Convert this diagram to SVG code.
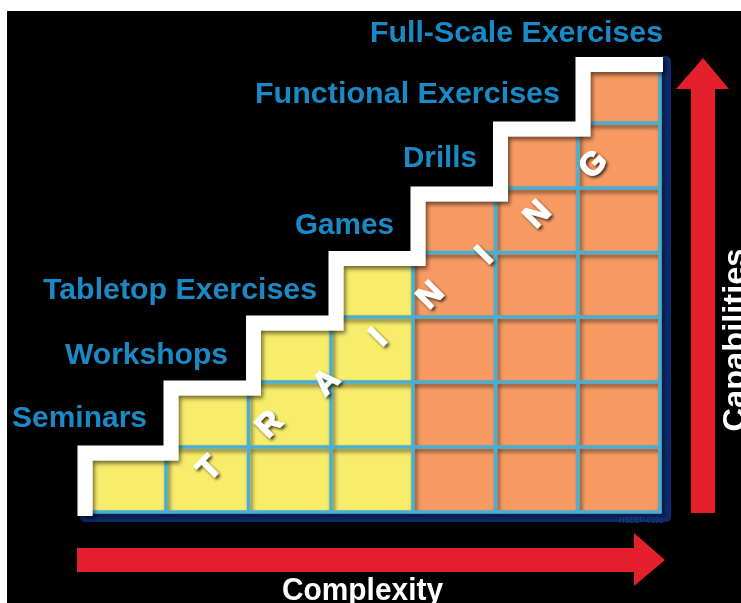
<svg xmlns="http://www.w3.org/2000/svg" width="741" height="603" viewBox="0 0 741 603">
<defs>
<style>
.lbl{font-family:"Liberation Sans",Arial,sans-serif;font-weight:bold;font-size:30px;fill:#1a8ac6}
.wt{font-family:"Liberation Sans",Arial,sans-serif;font-weight:bold;fill:#ffffff}
.ltr{font-family:"Liberation Sans",Arial,sans-serif;font-weight:bold;font-size:32px;fill:#ffffff;stroke:#ffffff;stroke-width:1.3;text-anchor:middle}
.gl{stroke:#4aaecf;stroke-width:3.5;fill:none}
.red{fill:#e3202b}
</style>
<filter id="sh" x="-10%" y="-10%" width="130%" height="130%">
<feDropShadow dx="2" dy="3" stdDeviation="2" flood-color="#000" flood-opacity="0.55"/>
</filter>
<filter id="lsh" x="-50%" y="-50%" width="200%" height="200%">
<feDropShadow dx="2" dy="2" stdDeviation="1.5" flood-color="#000" flood-opacity="0.7"/>
</filter>
</defs>
<rect x="0" y="0" width="741" height="603" fill="#ffffff"/>
<rect x="7" y="11" width="734" height="592" fill="#000000"/>

<g id="frame">
<path d="M80,508 H658 V62 Q658,56 664,56 H666 Q671,56 671,62 V516 Q671,522 665,522 H86 Q80,522 80,516 Z" fill="#0c2a6c"/>
</g>

<g id="cells">
<polygon id="yellow" fill="#f8ec6b" points="84,512 84,447 166,447 166,382 248.5,382 248.5,317 331,317 331,252.5 413,252.5 413,188 495.5,188 495.5,123 578,123 578,58 660,58 660,512"/>
<polygon id="orange" fill="#f79b63" points="413,512 413,188 495.5,188 495.5,123 578,123 578,58 660,58 660,512"/>
</g>

<g id="grid" class="gl" filter="url(#sh)">
<path d="M578,123 H660 M495.5,188 H660 M413,252.5 H660 M331,317 H660 M248.5,382 H660 M166,447 H660 M84,512 H661.75"/>
<path d="M166,382 V512 M248.5,317 V512 M331,252.5 V512 M413,188 V512 M495.5,123 V512 M578,58 V512 M660,58 V512"/>
</g>

<g id="stair" filter="url(#sh)">
<path d="M85,516 V453 H171 V388 H253.5 V323 H336 V258.5 H418 V194 H500.5 V129 H583 V64.5 H663" fill="none" stroke="#ffffff" stroke-width="15" stroke-linejoin="miter"/>
</g>

<g id="training" filter="url(#lsh)">
<text class="ltr" transform="translate(208,467) rotate(-45)" y="11.5">T</text>
<text class="ltr" transform="translate(268,423) rotate(-45)" y="11.5">R</text>
<text class="ltr" transform="translate(325,381) rotate(-45)" y="11.5">A</text>
<text class="ltr" transform="translate(377,336) rotate(-45)" y="11.5">I</text>
<text class="ltr" transform="translate(429,294) rotate(-45)" y="11.5">N</text>
<text class="ltr" transform="translate(483,254) rotate(-45)" y="11.5">I</text>
<text class="ltr" transform="translate(536,213) rotate(-45)" y="11.5">N</text>
<text class="ltr" transform="translate(592,163) rotate(-45)" y="11.5">G</text>
</g>

<g id="labels">
<g id="full-scale"><text class="lbl" x="370" y="42" textLength="293" lengthAdjust="spacingAndGlyphs">Full-Scale Exercises</text></g>
<g id="functional"><text class="lbl" x="255" y="103" textLength="305" lengthAdjust="spacingAndGlyphs">Functional Exercises</text></g>
<g id="drills"><text class="lbl" x="403" y="167" textLength="74" lengthAdjust="spacingAndGlyphs">Drills</text></g>
<g id="games"><text class="lbl" x="295" y="234" textLength="99" lengthAdjust="spacingAndGlyphs">Games</text></g>
<g id="tabletop"><text class="lbl" x="43" y="299" textLength="274" lengthAdjust="spacingAndGlyphs">Tabletop Exercises</text></g>
<g id="workshops"><text class="lbl" x="65" y="364" textLength="163" lengthAdjust="spacingAndGlyphs">Workshops</text></g>
<g id="seminars"><text class="lbl" x="12" y="427" textLength="135" lengthAdjust="spacingAndGlyphs">Seminars</text></g>
</g>

<g id="connectors">
<polygon class="red" points="77,548 634,548 634,533 665,560 634,586 634,572 77,572"/>
<polygon class="red" points="691,513 691,89 676,89 703,58 729,89 715,89 715,513"/>
</g>

<g id="axis-labels">
<text class="wt" x="282" y="600" font-size="30.5" textLength="161" lengthAdjust="spacingAndGlyphs">Complexity</text>
<text class="wt" transform="translate(745,340) rotate(-90)" text-anchor="middle" font-size="32" textLength="183" lengthAdjust="spacingAndGlyphs">Capabilities</text>
<text x="619" y="523" font-family="Liberation Sans, Arial, sans-serif" font-size="8.5" fill="#1d3f86" textLength="44" lengthAdjust="spacingAndGlyphs">HSEEP-019c</text>
</g>
</svg>
